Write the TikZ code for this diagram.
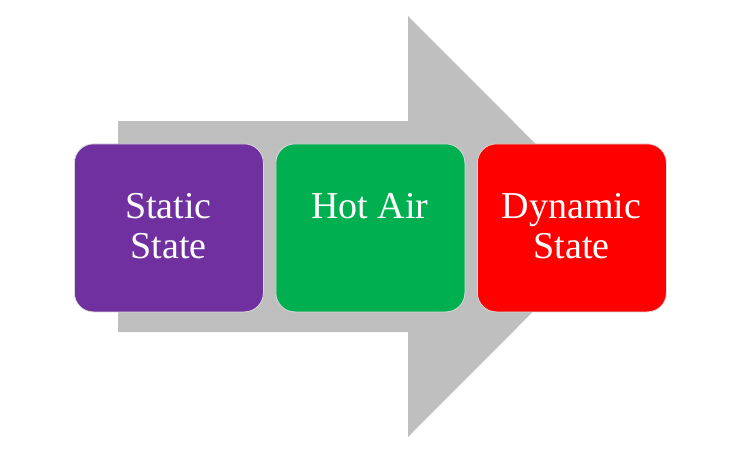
\documentclass[tikz,border=0pt]{standalone}
\usepackage{fontspec}
\setmainfont{Liberation Serif}
\definecolor{arrowgrey}{HTML}{BFBFBF}
\definecolor{boxpurple}{HTML}{7030A0}
\definecolor{boxgreen}{HTML}{00B050}
\definecolor{boxred}{HTML}{FF0000}
\begin{document}
\begin{tikzpicture}[x=1pt,y=-1pt,
  stagebox/.style={draw=white!85!black, line width=0.8pt, rounded corners=19pt,
    minimum width=189pt, minimum height=168pt, inner sep=0pt, anchor=north west},
  stagetext/.style={text=white, font=\fontsize{38}{40}\selectfont, anchor=base, inner sep=0pt}]
\useasboundingbox (0,0) rectangle (750,453);
% big grey arrow
\fill[arrowgrey] (118,121) -- (408,121) -- (408,16) -- (618,226.5) -- (408,437) -- (408,332) -- (118,332) -- cycle;
% boxes
\node[stagebox, fill=boxpurple] (static) at (74,143.5) {};
\node[stagebox, fill=boxgreen] (hot) at (275.5,143.5) {};
\node[stagebox, fill=boxred] (dynamic) at (477,143.5) {};
% texts
\node[stagetext] (t1a) at (168.5,218) {Static};
\node[stagetext] (t1b) at (168.5,258) {State};
\node[stagetext] (t2a) at (370,218) {Hot Air};
\node[stagetext] (t3a) at (571.5,218) {Dynamic};
\node[stagetext] (t3b) at (571.5,258) {State};
\end{tikzpicture}
\end{document}
